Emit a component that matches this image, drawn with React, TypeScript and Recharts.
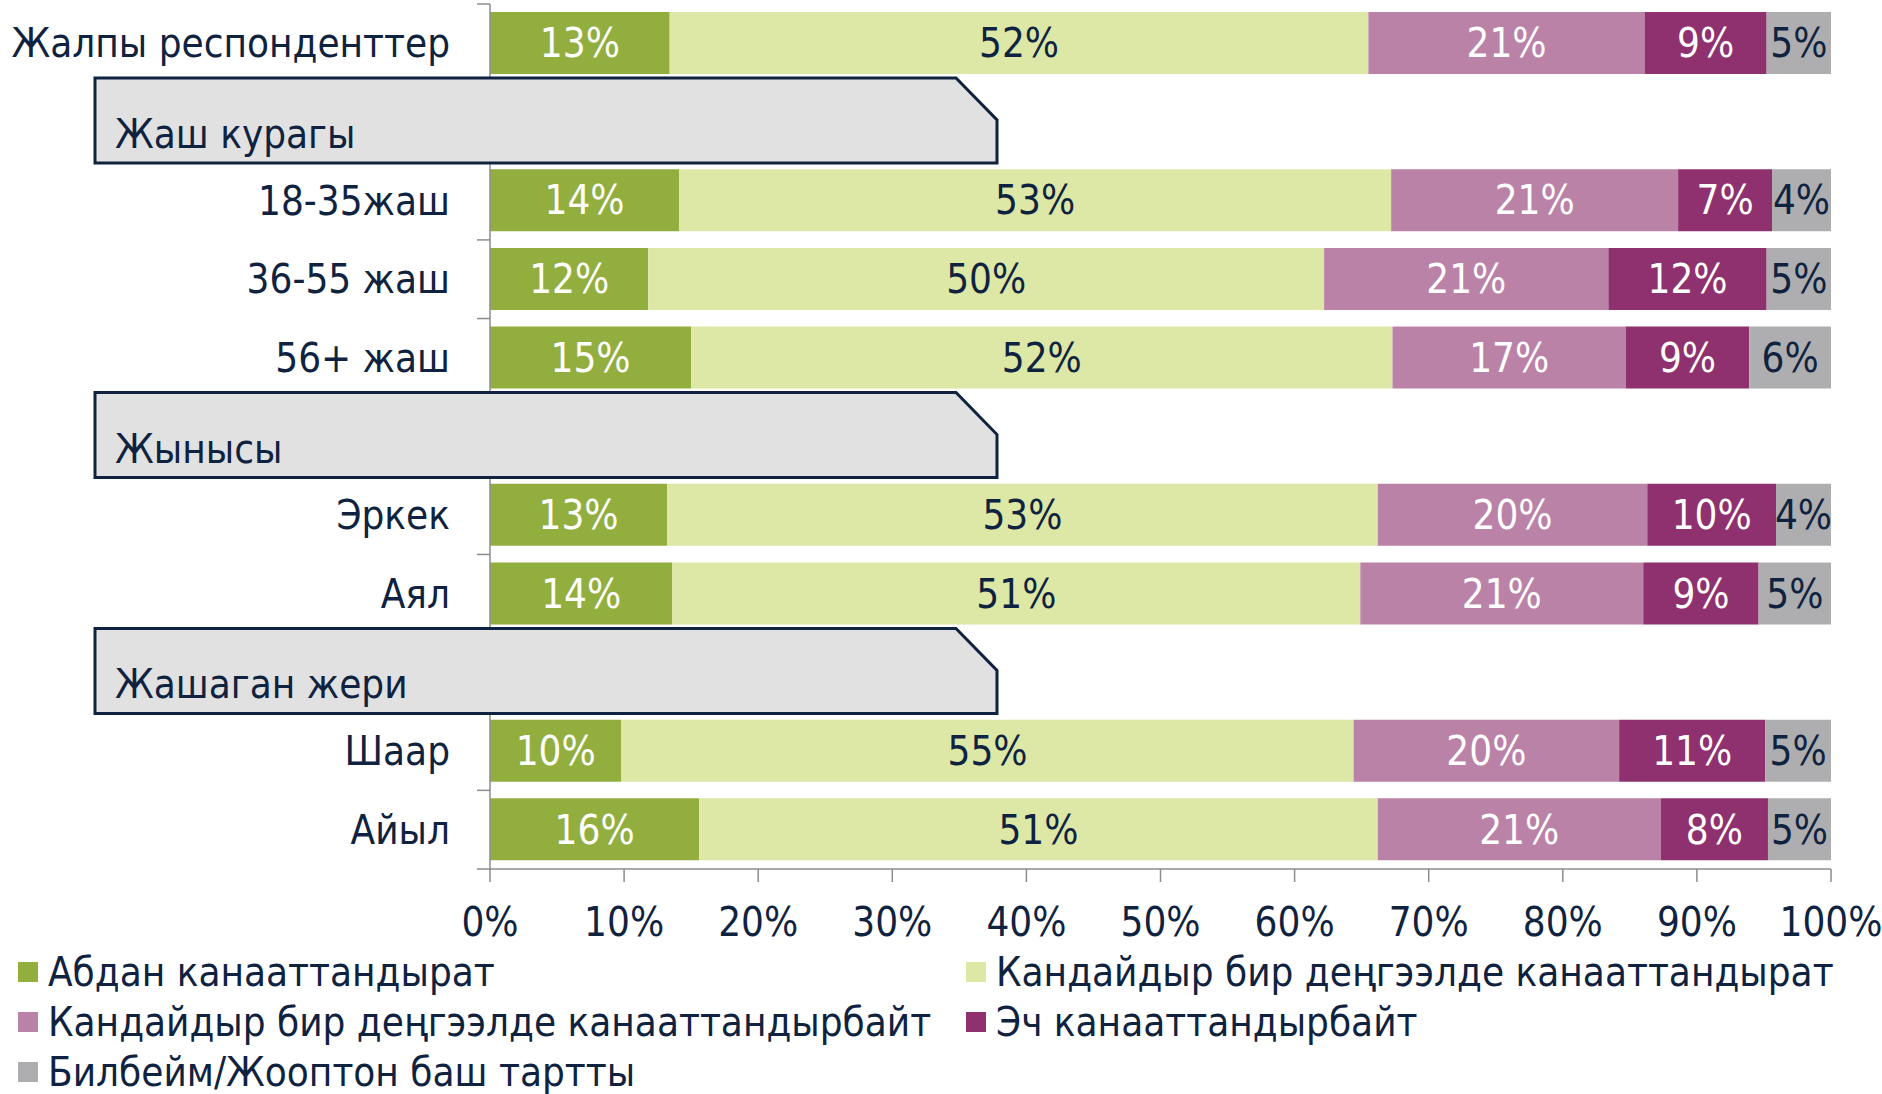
import React from 'react';
import { BarChart, Bar, XAxis, YAxis, LabelList, Legend } from 'recharts';

const FONT = "'Liberation Sans Narrow', 'DejaVu Sans Condensed', 'Roboto Condensed', sans-serif";
const FS = 40;
const NAVY = '#0f2340';
const AXIS_GRAY = '#8c8c8c';

// rows of the chart; header rows carry no bars
const categories = [
  'Жалпы респонденттер',
  'Жаш курагы',
  '18-35жаш',
  '36-55 жаш',
  '56+ жаш',
  'Жынысы',
  'Эркек',
  'Аял',
  'Жашаган жери',
  'Шаар',
  'Айыл',
];
const headerRows = ['Жаш курагы', 'Жынысы', 'Жашаган жери'];

// shares (%)
const verySatisfied = [13.4, null, 14.1, 11.8, 15.0, null, 13.2, 13.6, null, 9.8, 15.6];
const somewhatSatisfied = [52.1, null, 53.1, 50.4, 52.3, null, 53.0, 51.3, null, 54.6, 50.6];
const somewhatUnsatisfied = [20.6, null, 21.4, 21.2, 17.4, null, 20.1, 21.1, null, 19.8, 21.1];
const notSatisfied = [9.1, null, 7.0, 11.8, 9.2, null, 9.6, 8.6, null, 10.9, 8.0];
const dontKnow = [4.8, null, 4.4, 4.8, 6.1, null, 4.1, 5.4, null, 4.9, 4.7];

const seriesNames = [
  'Абдан канааттандырат',
  'Кандайдыр бир деңгээлде канааттандырат',
  'Кандайдыр бир деңгээлде канааттандырбайт',
  'Эч канааттандырбайт',
  'Билбейм/Жооптон баш тартты',
];
const seriesColors = ['#92ae3f', '#dde8a7', '#bb82a8', '#8f316e', '#aeaeb0'];
const labelColors = ['#ffffff', NAVY, '#ffffff', '#ffffff', NAVY];
const xTicks = [0, 10, 20, 30, 40, 50, 60, 70, 80, 90, 100];

const CHART_W = 1882;
const CHART_H = 1094;
const PLOT_LEFT = 490;
const PLOT_TOP = 4;
const PLOT_BOTTOM = 869;
const SLOT = (PLOT_BOTTOM - PLOT_TOP) / categories.length;

const seriesValues = [verySatisfied, somewhatSatisfied, somewhatUnsatisfied, notSatisfied, dontKnow];

const data = categories.map((name, i) => {
  const row: any = { name };
  seriesValues.forEach((vals, s) => {
    row[`s${s}`] = vals[i];
  });
  return row;
});

function CategoryTick(props: any) {
  const { y, payload, index } = props;
  const name = payload.value as string;

  if (headerRows.includes(name)) {
    const top = y - 44;
    const bottom = y + 41;
    const pts = `95,${top} 956,${top} 997,${top + 42} 997,${bottom} 95,${bottom}`;
    return (
      <g>
        <polygon points={pts} fill="#e1e1e1" stroke={NAVY} strokeWidth={3} />
        <text x={115} y={y + 26} fill={NAVY} fontSize={FS}>
          {name}
        </text>
      </g>
    );
  }

  const prevIsHeader = index > 0 && headerRows.includes(categories[index - 1]);
  const isLast = index === categories.length - 1;
  return (
    <g>
      {!prevIsHeader && (
        <line x1={PLOT_LEFT - 13} x2={PLOT_LEFT} y1={y - SLOT / 2} y2={y - SLOT / 2} stroke={AXIS_GRAY} strokeWidth={1.5} />
      )}
      {isLast && (
        <line x1={PLOT_LEFT - 13} x2={PLOT_LEFT} y1={y + SLOT / 2} y2={y + SLOT / 2} stroke={AXIS_GRAY} strokeWidth={1.5} />
      )}
      <text x={450} y={y} textAnchor="end" dominantBaseline="central" fill={NAVY} fontSize={FS}>
        {name}
      </text>
    </g>
  );
}

const legendSpots = [
  { left: 18, top: 27 },
  { left: 966, top: 27 },
  { left: 18, top: 77 },
  { left: 966, top: 77 },
  { left: 18, top: 127 },
];

function ChartLegend() {
  return (
    <div style={{ position: 'relative', width: CHART_W, height: 145, fontFamily: FONT }}>
      {seriesNames.map((name, i) => (
        <div
          key={name}
          style={{
            position: 'absolute',
            left: legendSpots[i].left,
            top: legendSpots[i].top - 25,
            height: 50,
            display: 'flex',
            alignItems: 'center',
            whiteSpace: 'nowrap',
            color: NAVY,
            fontSize: FS,
          }}
        >
          <span style={{ display: 'inline-block', width: 20, height: 20, background: seriesColors[i], marginRight: 10 }} />
          {name}
        </div>
      ))}
    </div>
  );
}

export default function App() {
  return (
    <div style={{ width: CHART_W, height: CHART_H, fontFamily: FONT, background: '#fff' }}>
      <style>{'body{margin:0}'}</style>
      <BarChart
        width={CHART_W}
        height={CHART_H}
        data={data}
        layout="vertical"
        margin={{ top: PLOT_TOP, right: 51, bottom: 0, left: 0 }}
        barSize={62}
      >
        <XAxis
          type="number"
          domain={[0, 100]}
          ticks={xTicks}
          tickFormatter={(v) => `${v}%`}
          height={80}
          tickSize={13}
          tickMargin={26}
          axisLine={{ stroke: AXIS_GRAY, strokeWidth: 1.5 }}
          tickLine={{ stroke: AXIS_GRAY, strokeWidth: 1.5 }}
          tick={{ fill: NAVY, fontSize: FS }}
        />
        <YAxis
          type="category"
          dataKey="name"
          width={PLOT_LEFT}
          interval={0}
          axisLine={{ stroke: AXIS_GRAY, strokeWidth: 1.5 }}
          tickLine={false}
          tick={<CategoryTick />}
        />
        {seriesNames.map((name, s) => (
          <Bar key={name} dataKey={`s${s}`} name={name} stackId="a" fill={seriesColors[s]} isAnimationActive={false}>
            <LabelList
              dataKey={`s${s}`}
              position="center"
              fill={labelColors[s]}
              fontSize={FS}
              formatter={(v: any) => (v == null ? '' : `${Math.round(v)}%`)}
            />
          </Bar>
        ))}
        <Legend
          verticalAlign="bottom"
          content={<ChartLegend />}
          wrapperStyle={{ left: 0, top: 945, width: CHART_W, height: 145 }}
        />
      </BarChart>
    </div>
  );
}
